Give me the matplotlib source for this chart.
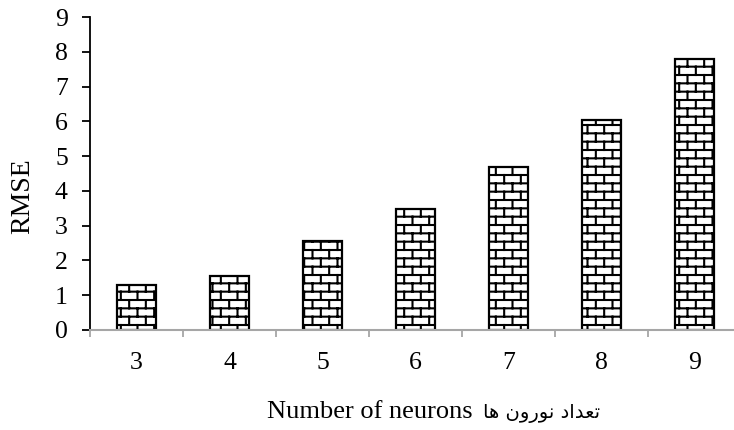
import warnings
import matplotlib
matplotlib.use('Agg')
import matplotlib.pyplot as plt
import matplotlib.hatch as mhatch
import numpy as np

warnings.filterwarnings('ignore')

# data
neurons = ['3', '4', '5', '6', '7', '8', '9']
rmse = [1.3, 1.56, 2.57, 3.48, 4.69, 6.05, 7.78]
y_ticks = list(range(0, 10))
y_label = 'RMSE'
x_label_en = 'Number of neurons'
x_label_fa = 'تعداد نورون ها'

# Persian letters: (isolated, final, initial, medial)
FORMS = {
    'ت': ('\uFE95', '\uFE96', '\uFE97', '\uFE98'),
    'ع': ('\uFEC9', '\uFECA', '\uFECB', '\uFECC'),
    'د': ('\uFEA9', '\uFEAA', None, None),
    'ا': ('\uFE8D', '\uFE8E', None, None),
    'ن': ('\uFEE5', '\uFEE6', '\uFEE7', '\uFEE8'),
    'و': ('\uFEED', '\uFEEE', None, None),
    'ر': ('\uFEAD', '\uFEAE', None, None),
    'ه': ('\uFEE9', '\uFEEA', '\uFEEB', '\uFEEC'),
}


def shape_rtl(text):
    out = []
    for i, c in enumerate(text):
        if c not in FORMS:
            out.append(c)
            continue
        before = i > 0 and text[i - 1] in FORMS and FORMS[text[i - 1]][2] is not None
        after = i < len(text) - 1 and text[i + 1] in FORMS and FORMS[c][2] is not None
        if before and after:
            out.append(FORMS[c][3])
        elif after:
            out.append(FORMS[c][2])
        elif before:
            out.append(FORMS[c][1])
        else:
            out.append(FORMS[c][0])
    return ''.join(reversed(out))


# brick hatch pattern, used with hatch='b'
class BrickHatch(mhatch.HatchPatternBase):
    def __init__(self, hatch, density):
        self.rows = 12 if 'b' in hatch else 0
        self.per_row = self.rows // 2
        self.num_vertices = (self.rows + 1) * 2 + self.rows * self.per_row * 2

    def set_vertices_and_codes(self, vertices, codes):
        n = self.rows
        w = 1.0 / self.per_row
        k = 0
        # horizontal mortar lines (edges split between neighbouring tiles)
        for i in range(n + 1):
            vertices[k] = (0, i / n)
            vertices[k + 1] = (1, i / n)
            codes[k] = 1
            codes[k + 1] = 2
            k += 2
        # vertical joints, offset every other row
        for i in range(n):
            for j in range(self.per_row):
                xj = (j + 0.25 + 0.5 * (i % 2)) * w
                vertices[k] = (xj, i / n)
                vertices[k + 1] = (xj, (i + 1) / n)
                codes[k] = 1
                codes[k + 1] = 2
                k += 2


mhatch._hatch_types.append(BrickHatch)

plt.rcParams['font.family'] = ['Liberation Serif', 'DejaVu Sans']
plt.rcParams['hatch.linewidth'] = 1.5

fig = plt.figure(figsize=(7.34, 4.30), dpi=100)
ax = fig.add_axes([90 / 734, 100 / 430, 651 / 734, 313 / 430])

x = np.arange(len(neurons))
ax.bar(x, rmse, width=0.41, color='white', edgecolor='black',
       linewidth=1.6, hatch='b', zorder=1)

ax.set_xlim(-0.5, len(neurons) - 0.5)
ax.set_ylim(0, 9)
ax.set_yticks(y_ticks)
ax.set_xticks(x)
ax.set_xticklabels(neurons)
ax.set_xticks(np.arange(len(neurons) + 1) - 0.5, minor=True)

for s in ['top', 'right']:
    ax.spines[s].set_visible(False)
ax.spines['left'].set_color('black')
ax.spines['left'].set_linewidth(1.3)
ax.spines['bottom'].set_color('#a6a6a6')
ax.spines['bottom'].set_linewidth(1.5)

ax.tick_params(axis='y', length=6, width=1.3, color='black', pad=10, labelsize=18.5)
ax.tick_params(axis='x', which='major', length=0, pad=16, labelsize=18.5)
ax.tick_params(axis='x', which='minor', length=5, width=1.3, color='#a6a6a6')

fig.text(23 / 734, 1 - 196 / 430, y_label, rotation=90, ha='center',
         va='center', fontsize=20)
fig.text(473 / 734, 1 - 418 / 430, x_label_en, ha='right', va='baseline',
         fontsize=19)
fig.text(483 / 734, 1 - 418 / 430, shape_rtl(x_label_fa), ha='left',
         va='baseline', fontsize=14, family='DejaVu Sans')

fig.savefig('out.png', dpi=100)
